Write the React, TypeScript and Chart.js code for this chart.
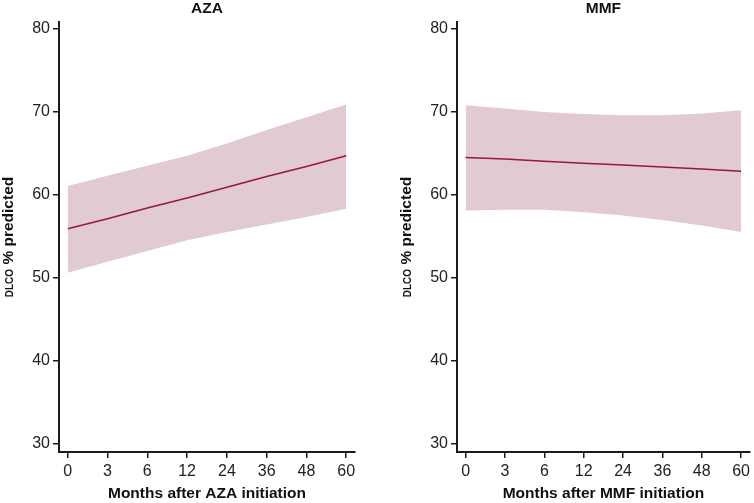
import React, { useEffect, useRef } from "react";
import { Chart, registerables } from "chart.js";

Chart.register(...registerables);

// ---- data ----
const monthLabels = ["0", "3", "6", "12", "24", "36", "48", "60"];
const yTickValues = [30, 40, 50, 60, 70, 80];

const azaFit = [55.9, 57.1, 58.4, 59.6, 60.9, 62.2, 63.4, 64.7];
const azaUpper = [61.05, 62.3, 63.5, 64.7, 66.2, 67.8, 69.35, 70.9];
const azaLower = [50.6, 51.9, 53.2, 54.5, 55.5, 56.4, 57.3, 58.3];

const mmfFit = [64.5, 64.3, 64.05, 63.8, 63.6, 63.35, 63.1, 62.85];
const mmfUpper = [70.8, 70.4, 70.0, 69.75, 69.6, 69.6, 69.8, 70.2];
const mmfLower = [58.1, 58.2, 58.2, 57.9, 57.5, 56.95, 56.3, 55.5];

const FONT = '"Liberation Sans", Arial, Helvetica, sans-serif';
const LINE_COLOR = "#96173f";
const BAND_COLOR = "#e2cbd0";
const AXIS_COLOR = "#1a1a1a";

type PanelProps = {
  title: string;
  xTitle: string;
  fit: number[];
  upper: number[];
  lower: number[];
  yAxisWidth: number;
  padRight: number;
  yTitleX: number;
  left: number;
  width: number;
};

function Panel(p: PanelProps) {
  const ref = useRef<HTMLCanvasElement | null>(null);
  useEffect(() => {
    if (!ref.current) return;
    const pts = (arr: number[]) => arr.map((v, i) => ({ x: i, y: v }));
    const textPlugin = {
      id: "panelText",
      afterDraw(chart: any) {
        const { ctx, chartArea } = chart;
        ctx.save();
        ctx.fillStyle = "#111";
        ctx.font = `bold 15.5px ${FONT}`;
        ctx.textAlign = "center";
        ctx.textBaseline = "middle";
        ctx.fillText(p.title, (chartArea.left + chartArea.right) / 2, 9);
        const cy = (chartArea.top + chartArea.bottom) / 2;
        ctx.translate(p.yTitleX, cy);
        ctx.rotate(-Math.PI / 2);
        const small = `bold 10px ${FONT}`;
        const big = `bold 15.5px ${FONT}`;
        ctx.font = small;
        const w1 = ctx.measureText("DLCO").width;
        ctx.font = big;
        const w2 = ctx.measureText(" % predicted").width;
        const start = -(w1 + w2) / 2;
        ctx.textAlign = "left";
        ctx.textBaseline = "alphabetic";
        ctx.font = small;
        ctx.fillText("DLCO", start, 5);
        ctx.font = big;
        ctx.fillText(" % predicted", start + w1, 5);
        ctx.restore();
      },
    };
    const chart = new Chart(ref.current, {
      type: "line",
      data: {
        datasets: [
          {
            data: pts(p.upper),
            borderWidth: 0,
            pointRadius: 0,
            backgroundColor: BAND_COLOR,
            fill: "+1",
            tension: 0,
            order: 3,
          },
          {
            data: pts(p.lower),
            borderWidth: 0,
            pointRadius: 0,
            fill: false,
            tension: 0,
            order: 2,
          },
          {
            data: pts(p.fit),
            borderColor: LINE_COLOR,
            borderWidth: 1.5,
            pointRadius: 0,
            fill: false,
            tension: 0,
            order: 0,
          },
        ],
      },
      plugins: [textPlugin],
      options: {
        responsive: false,
        animation: false,
        devicePixelRatio: 1,
        layout: { padding: { top: 22, right: p.padRight, left: 0, bottom: 0 } },
        plugins: {
          legend: { display: false },
          tooltip: { enabled: false },
          title: { display: false },
          filler: { drawTime: "beforeDatasetsDraw" },
        },
        scales: {
          x: {
            type: "linear",
            min: -0.22,
            max: 7.22,
            afterBuildTicks: (s: any) => {
              s.ticks = monthLabels.map((_, i) => ({ value: i }));
            },
            afterFit: (s: any) => {
              s.height = 51;
            },
            ticks: {
              callback: (v: any) => monthLabels[v as number] ?? "",
              font: { family: FONT, size: 16 },
              color: "#222",
              padding: 4,
              maxRotation: 0,
              autoSkip: false,
            },
            grid: {
              drawOnChartArea: false,
              drawTicks: true,
              tickLength: 6,
              color: AXIS_COLOR,
              lineWidth: 1.5,
            },
            border: { display: true, color: AXIS_COLOR, width: 2 },
            title: {
              display: true,
              text: p.xTitle,
              font: { family: FONT, size: 15.5, weight: "bold" },
              color: "#111",
              padding: { top: 0, bottom: 0 },
            },
          },
          y: {
            type: "linear",
            min: 28.95,
            max: 80.85,
            afterBuildTicks: (s: any) => {
              s.ticks = yTickValues.map((v) => ({ value: v }));
            },
            afterFit: (s: any) => {
              s.width = p.yAxisWidth;
            },
            ticks: {
              font: { family: FONT, size: 16 },
              color: "#222",
              padding: 3,
            },
            grid: {
              drawOnChartArea: false,
              drawTicks: true,
              tickLength: 6,
              color: AXIS_COLOR,
              lineWidth: 1.5,
            },
            border: { display: true, color: AXIS_COLOR, width: 2 },
          },
        },
      } as any,
    });
    return () => chart.destroy();
  }, []);
  return (
    <canvas
      ref={ref}
      width={p.width}
      height={503}
      style={{ position: "absolute", left: p.left, top: 0, width: p.width, height: 503, display: "block" }}
    />
  );
}

export default function App() {
  return (
    <div style={{ position: "absolute", left: 0, top: 0, width: 754, height: 503, background: "#fff" }}>
      <Panel
        title="AZA"
        xTitle="Months after AZA initiation"
        fit={azaFit}
        upper={azaUpper}
        lower={azaLower}
        yAxisWidth={59}
        padRight={22}
        yTitleX={8}
        left={0}
        width={377}
      />
      <Panel
        title="MMF"
        xTitle="Months after MMF initiation"
        fit={mmfFit}
        upper={mmfUpper}
        lower={mmfLower}
        yAxisWidth={80}
        padRight={0}
        yTitleX={29}
        left={377}
        width={377}
      />
    </div>
  );
}
